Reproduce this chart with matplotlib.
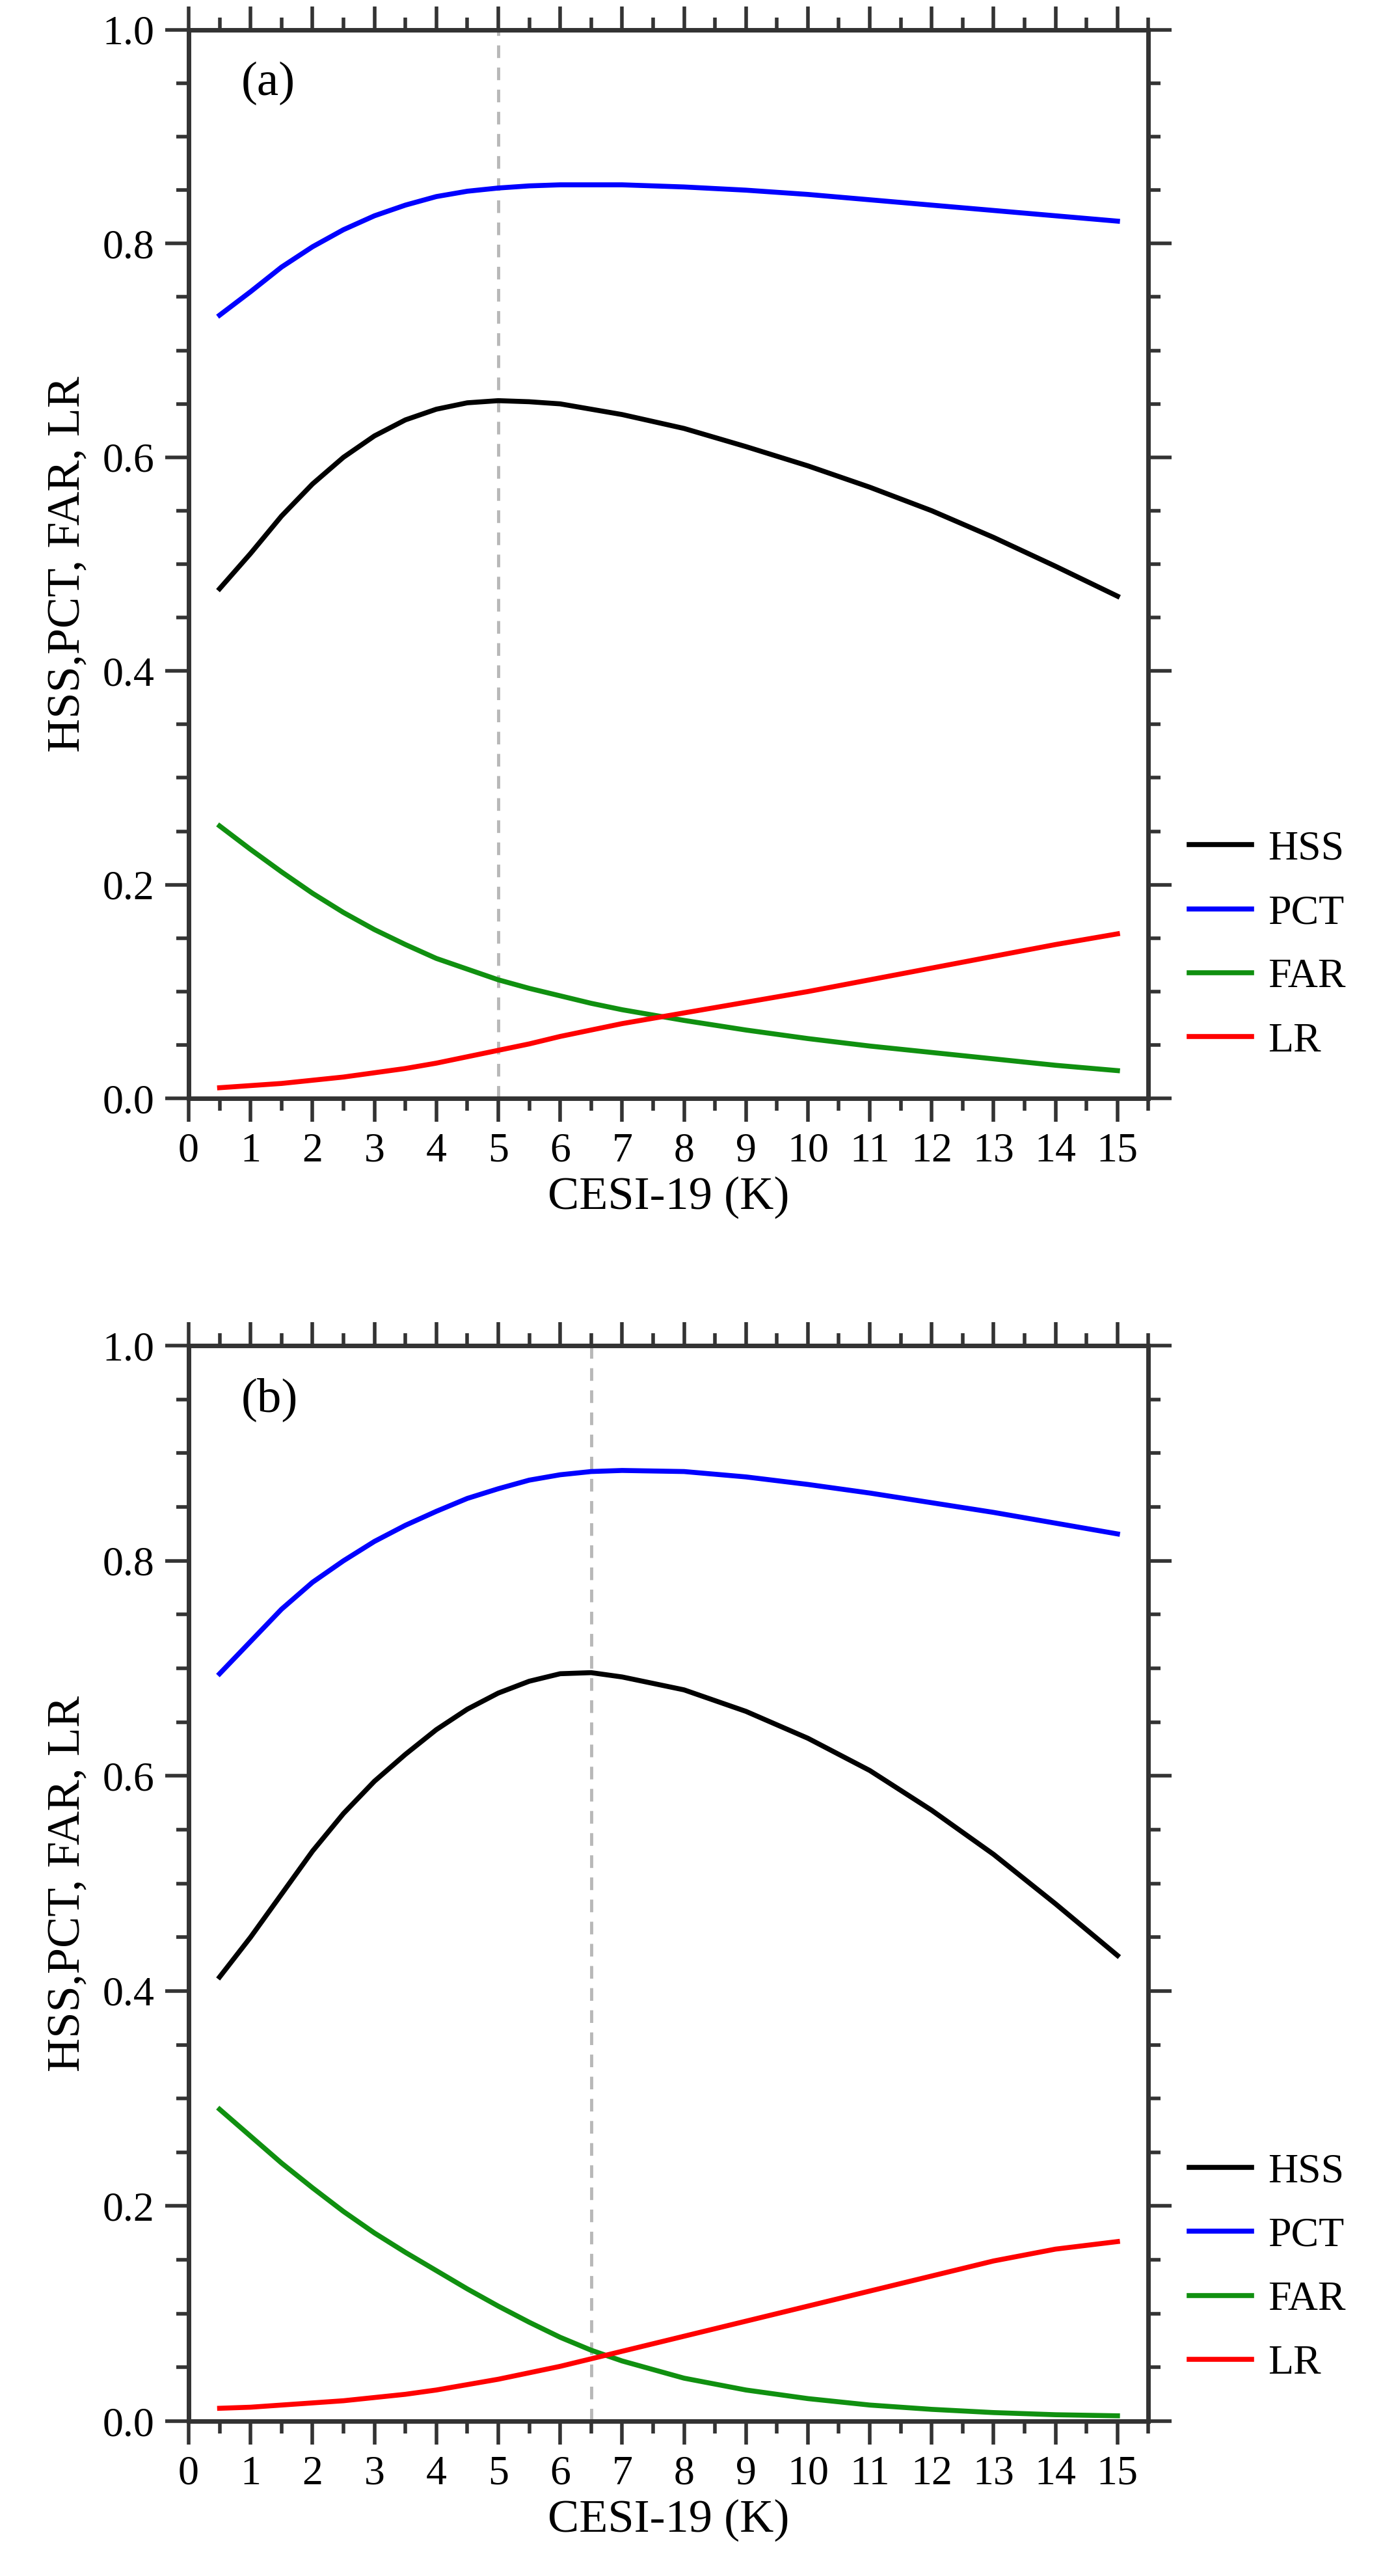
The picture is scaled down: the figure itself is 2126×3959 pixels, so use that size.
import numpy as np
import matplotlib.pyplot as plt
from matplotlib.ticker import MultipleLocator

plt.rcParams['font.family'] = ['Liberation Serif', 'DejaVu Serif']

# CESI-19 threshold (K)
x = [0.5, 1, 1.5, 2, 2.5, 3, 3.5, 4, 4.5, 5, 5.5, 6, 6.5, 7, 8, 9, 10, 11, 12, 13, 14, 15]

# panel (a)
hss_a = [0.477, 0.510, 0.545, 0.575, 0.600, 0.620, 0.635, 0.645, 0.651, 0.653, 0.652, 0.650, 0.645,
         0.640, 0.627, 0.610, 0.592, 0.572, 0.550, 0.525, 0.498, 0.470]
pct_a = [0.733, 0.755, 0.778, 0.797, 0.813, 0.826, 0.836, 0.844, 0.849, 0.852, 0.854, 0.855, 0.855,
         0.855, 0.853, 0.850, 0.846, 0.841, 0.836, 0.831, 0.826, 0.821]
far_a = [0.255, 0.233, 0.212, 0.192, 0.174, 0.158, 0.144, 0.131, 0.121, 0.111, 0.103, 0.096, 0.089,
         0.083, 0.073, 0.064, 0.056, 0.049, 0.043, 0.037, 0.031, 0.026]
lr_a = [0.010, 0.012, 0.014, 0.017, 0.020, 0.024, 0.028, 0.033, 0.039, 0.045, 0.051, 0.058, 0.064,
        0.070, 0.080, 0.090, 0.100, 0.111, 0.122, 0.133, 0.144, 0.154]
opt_a = 5.0

# panel (b)
hss_b = [0.413, 0.450, 0.490, 0.530, 0.565, 0.595, 0.620, 0.643, 0.662, 0.677, 0.688, 0.695, 0.696,
         0.692, 0.680, 0.660, 0.635, 0.605, 0.568, 0.527, 0.481, 0.433]
pct_b = [0.695, 0.725, 0.755, 0.780, 0.800, 0.818, 0.833, 0.846, 0.858, 0.867, 0.875, 0.880, 0.883,
         0.884, 0.883, 0.878, 0.871, 0.863, 0.854, 0.845, 0.835, 0.825]
far_b = [0.290, 0.265, 0.240, 0.217, 0.195, 0.175, 0.157, 0.140, 0.123, 0.107, 0.092, 0.078, 0.066,
         0.056, 0.040, 0.029, 0.021, 0.015, 0.011, 0.008, 0.006, 0.005]
lr_b = [0.012, 0.013, 0.015, 0.017, 0.019, 0.022, 0.025, 0.029, 0.034, 0.039, 0.045, 0.051, 0.058,
        0.065, 0.079, 0.093, 0.107, 0.121, 0.135, 0.149, 0.160, 0.167]
opt_b = 6.5

panels = [
    ('(a)', hss_a, pct_a, far_a, lr_a, opt_a, [0.1364, 0.5736, 0.694, 0.4148]),
    ('(b)', hss_b, pct_b, far_b, lr_b, opt_b, [0.1364, 0.0601, 0.694, 0.4175]),
]

fig = plt.figure(figsize=(21.26, 39.59), dpi=100)
fs = 46
for tag, hss, pct, far, lr, opt, rect in panels:
    ax = fig.add_axes(rect)
    ax.axvline(opt, color='#b8b8b8', lw=3.5, ls=(0, (4, 3)), zorder=1)
    ax.plot(x, hss, color='black', lw=5.5, label='HSS')
    ax.plot(x, pct, color='blue', lw=5.5, label='PCT')
    ax.plot(x, far, color='#109010', lw=5.5, label='FAR')
    ax.plot(x, lr, color='red', lw=5.5, label='LR')
    ax.set_xlim(0, 15.5)
    ax.set_ylim(0, 1)
    ax.xaxis.set_major_locator(MultipleLocator(1))
    ax.xaxis.set_minor_locator(MultipleLocator(0.5))
    ax.yaxis.set_minor_locator(MultipleLocator(0.05))
    ax.set_yticks(np.arange(0, 1.01, 0.2))
    ax.set_yticklabels(['%.1f' % v for v in np.arange(0, 1.01, 0.2)])
    ax.tick_params(which='both', direction='out', top=True, right=True, width=4,
                   color='#333333', labelsize=fs, pad=12)
    ax.tick_params(which='major', length=26)
    ax.tick_params(which='minor', length=14)
    for s in ax.spines.values():
        s.set_linewidth(5)
        s.set_color('#333333')
    ax.set_xlabel('CESI-19 (K)', fontsize=fs + 6, labelpad=6)
    ax.set_ylabel('HSS,PCT, FAR, LR', fontsize=fs + 6, labelpad=14)
    ax.text(0.055, 0.95, tag, transform=ax.transAxes, fontsize=fs + 8, va='center')
    ax.legend(loc='lower left', bbox_to_anchor=(1.025, 0.02), frameon=False, fontsize=fs,
              handlelength=1.5, handletextpad=0.4, labelspacing=0.62, borderaxespad=0)

fig.savefig('out.png', dpi=100)
